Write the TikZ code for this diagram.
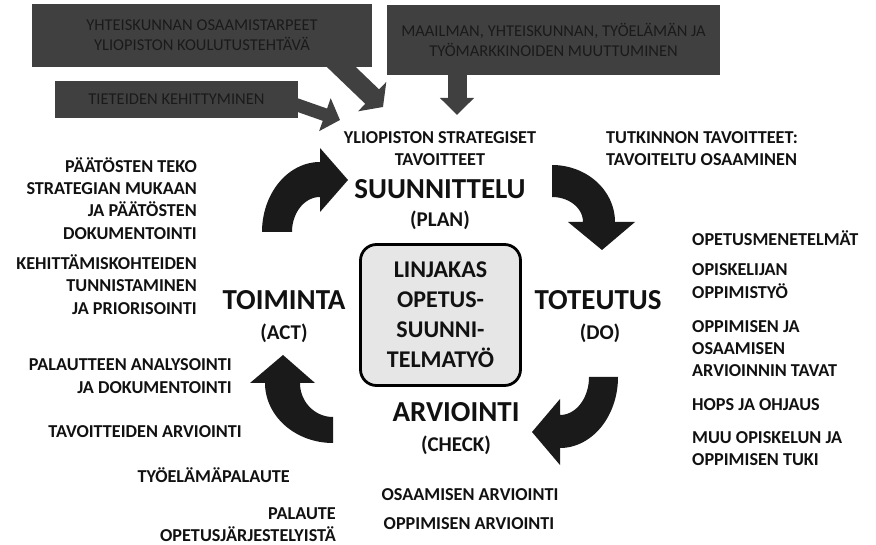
\documentclass[tikz,border=0pt]{standalone}
\usepackage{fontspec}
\setmainfont{Carlito}
\usetikzlibrary{arrows.meta}
\definecolor{boxgray}{HTML}{404040}
\definecolor{boxtext}{HTML}{1A1A1A}
\definecolor{arrowblk}{HTML}{1A1A1A}
\definecolor{txt}{HTML}{111111}
\definecolor{centerfill}{HTML}{E6E6E6}
\begin{document}
\begin{tikzpicture}[x=1pt,y=-1pt,
  graybox/.style={fill=boxgray, text=boxtext, inner sep=0pt, align=center,
    font=\fontsize{16.5}{20}\selectfont},
  grayarr/.style={draw=boxgray},
  lbl/.style={font=\bfseries\fontsize{18.2}{22.3}\selectfont, text=txt, inner sep=0pt},
  biglbl/.style={font=\bfseries\fontsize{29}{34}\selectfont, text=txt, inner sep=0pt},
  parlbl/.style={font=\bfseries\fontsize{21}{25}\selectfont, text=txt, inner sep=0pt},
  cyclearrow/.style={fill=arrowblk}
]
\useasboundingbox (0,0) rectangle (876,545);

% gray boxes
\node[graybox, minimum width=340pt, minimum height=63pt] (boxA) at (202,35.5)
  {YHTEISKUNNAN OSAAMISTARPEET\\YLIOPISTON KOULUTUSTEHTÄVÄ};
\node[graybox, minimum width=243pt, minimum height=37pt] (boxB) at (176.5,99.5)
  {TIETEIDEN KEHITTYMINEN};
\node[graybox, minimum width=333pt, minimum height=70pt] (boxC) at (553.5,40)
  {MAAILMAN, YHTEISKUNNAN, TYÖELÄMÄN JA\\TYÖMARKKINOIDEN MUUTTUMINEN};

% straight gray arrows
\coordinate (tipA) at (383,107);
\coordinate (tipB) at (340,120);
\coordinate (tipC) at (457,115);
\draw[grayarr, line width=20pt, -{Triangle[width=40pt,length=15pt]}]
  ([xshift=-39pt,yshift=8pt]boxA.south east) -- (tipA);
\draw[grayarr, line width=13pt, -{Triangle[width=34pt,length=16pt]}]
  ([xshift=-8pt,yshift=-3pt]boxB.east) -- (tipB);
\draw[grayarr, line width=19pt, -{Triangle[width=33pt,length=17pt]}]
  ([xshift=-96.5pt,yshift=6pt]boxC.south) -- (tipC);

% curved cycle arrows
\fill[cyclearrow] plot[domain=180:270,samples=40] ({320+58*cos(\x)},{232+70*sin(\x)})
  -- (320,148) -- (348,180) -- (320,212)
  -- plot[domain=270:180,samples=40] ({320+28*cos(\x)},{232+35*sin(\x)}) -- cycle;
\fill[cyclearrow] plot[domain=270:360,samples=40] ({552+63*cos(\x)},{222+57*sin(\x)})
  -- (635,222) -- (602,250) -- (568,222)
  -- plot[domain=360:270,samples=40] ({552+31*cos(\x)},{222+25*sin(\x)}) -- cycle;
\fill[cyclearrow] plot[domain=0:90,samples=40] ({560+58*cos(\x)},{377+71*sin(\x)})
  -- (560,465) -- (532,432) -- (560,399)
  -- plot[domain=90:0,samples=40] ({560+29*cos(\x)},{377+38*sin(\x)}) -- cycle;
\fill[cyclearrow] plot[domain=90:180,samples=40] ({333+68*cos(\x)},{383+60*sin(\x)})
  -- (250,383) -- (283,355) -- (315,383)
  -- plot[domain=180:90,samples=40] ({333+33*cos(\x)},{383+34*sin(\x)}) -- cycle;

% center box
\node[draw=black, line width=2.8pt, fill=centerfill, rounded corners=16pt,
  minimum width=160pt, minimum height=141pt, align=center, text=txt,
  font=\bfseries\fontsize{24}{30}\selectfont] (center) at (440.5,315)
  {LINJAKAS\\OPETUS-\\SUUNNI-\\TELMATYÖ};

% phase labels
\node[lbl, align=center] (strat) at (440,148.5) {YLIOPISTON STRATEGISET\\TAVOITTEET};
\node[biglbl] (plan) at (440,189) {SUUNNITTELU};
\node[parlbl] (planp) at (440,220) {(PLAN)};
\node[biglbl] (act) at (284,300) {TOIMINTA};
\node[parlbl] (actp) at (284,333) {(ACT)};
\node[biglbl] (do) at (598,300) {TOTEUTUS};
\node[parlbl] (dop) at (600,333) {(DO)};
\node[biglbl] (check) at (456,412) {ARVIOINTI};
\node[parlbl] (checkp) at (456,445) {(CHECK)};

% top right
\node[lbl, anchor=west, align=left] (tutk) at (606,148.5)
  {TUTKINNON TAVOITTEET:\\TAVOITELTU OSAAMINEN};

% left side
\node[lbl, anchor=east, align=right] (paat) at (197,198.5)
  {PÄÄTÖSTEN TEKO\\STRATEGIAN MUKAAN\\JA PÄÄTÖSTEN\\DOKUMENTOINTI};
\node[lbl, anchor=east, align=right] (keh) at (197,284.5)
  {KEHITTÄMISKOHTEIDEN\\TUNNISTAMINEN\\JA PRIORISOINTI};
\node[lbl, anchor=east, align=right] (pal) at (232,376)
  {PALAUTTEEN ANALYSOINTI\\JA DOKUMENTOINTI};
\node[lbl, anchor=east] (tav) at (242,432) {TAVOITTEIDEN ARVIOINTI};
\node[lbl, anchor=east] (tyo) at (290,475) {TYÖELÄMÄPALAUTE};
\node[lbl, anchor=east, align=right] (opjar) at (336,525)
  {PALAUTE\\OPETUSJÄRJESTELYISTÄ};

% bottom
\node[lbl] (osarv) at (470,495) {OSAAMISEN ARVIOINTI};
\node[lbl] (oparv) at (469,524) {OPPIMISEN ARVIOINTI};

% right side
\node[lbl, anchor=west] (opmen) at (692,238) {OPETUSMENETELMÄT};
\node[lbl, anchor=west, align=left] (opisk) at (692,281) {OPISKELIJAN\\OPPIMISTYÖ};
\node[lbl, anchor=west, align=left] (oppja) at (692,348.5)
  {OPPIMISEN JA\\OSAAMISEN\\ARVIOINNIN TAVAT};
\node[lbl, anchor=west] (hops) at (692,405) {HOPS JA OHJAUS};
\node[lbl, anchor=west, align=left] (muu) at (692,448.5)
  {MUU OPISKELUN JA\\OPPIMISEN TUKI};
\end{tikzpicture}
\end{document}
